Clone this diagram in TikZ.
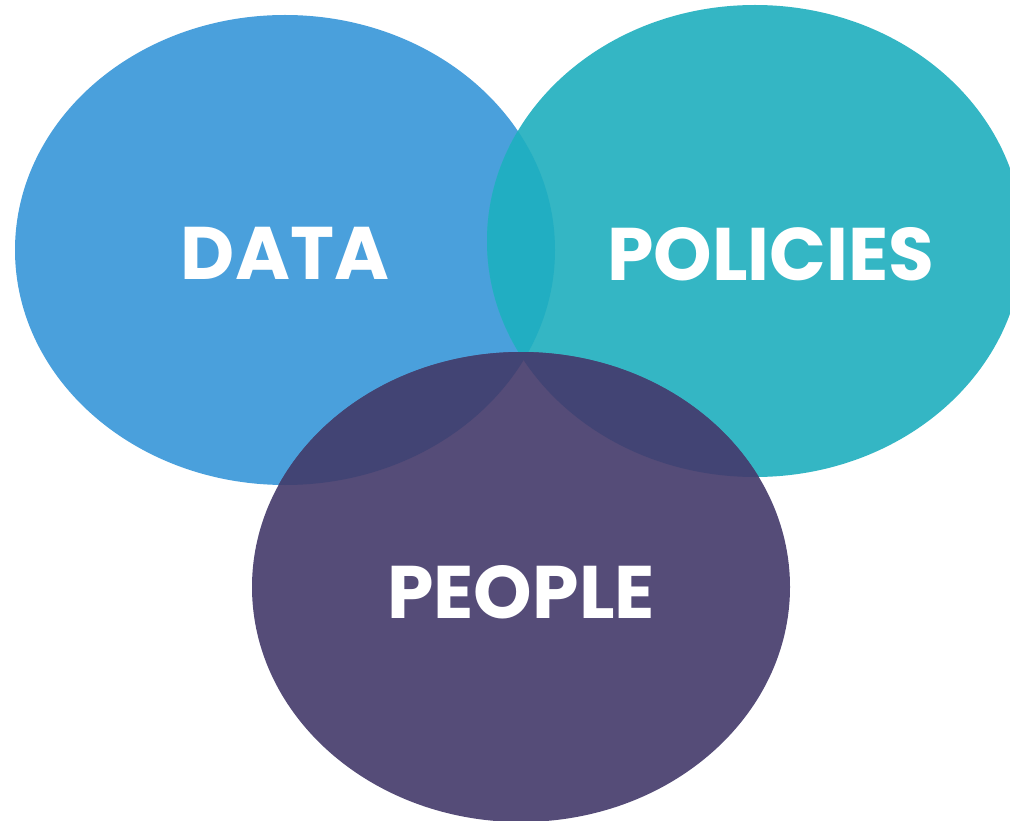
\documentclass[tikz,border=0pt]{standalone}
\usepackage{fontspec}
\setmainfont{Poppins}[BoldFont={* Bold}]
\definecolor{cdata}{HTML}{4AA0DC}
\definecolor{cpol}{HTML}{34B6C4}
\definecolor{cdp}{HTML}{21AEC2}
\definecolor{cpeo}{HTML}{554C78}
\definecolor{cdark}{HTML}{424474}
\tikzset{
  lbl/.style={text=white, font=\fontsize{74.5}{75}\selectfont\bfseries, inner sep=0pt},
}
\begin{document}
\begin{tikzpicture}[x=1pt,y=-1pt]
\useasboundingbox (0,0) rectangle (1010,821);
\clip (0,0) rectangle (1010,821);
\def\edata{(285,250) ellipse [x radius=270pt, y radius=235pt]}
\def\epol{(755,241) ellipse [x radius=268pt, y radius=236pt]}
\def\epeo{(521,587) ellipse [x radius=269pt, y radius=235pt]}
\fill[cdata] \edata;
\fill[cpol] \epol;
\begin{scope}
  \clip \edata;
  \fill[cdp] \epol;
\end{scope}
\fill[cpeo] \epeo;
\begin{scope}
  \clip \epeo;
  \fill[cdark] \edata;
  \fill[cdark] \epol;
\end{scope}
\node[lbl] (data) at (285,253) {DATA};
\node[lbl] (policies) at (771,254) {POLICIES};
\node[lbl] (people) at (521,592) {PEOPLE};
\end{tikzpicture}
\end{document}
